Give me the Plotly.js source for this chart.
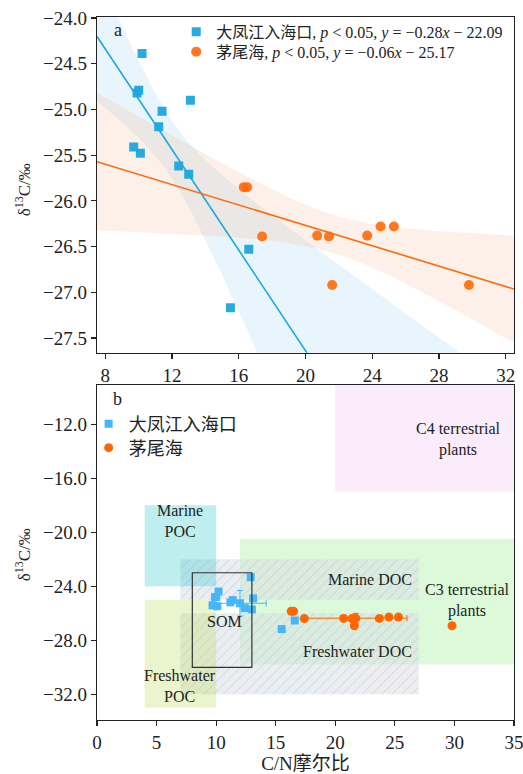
<!DOCTYPE html>
<html><head><meta charset="utf-8">
<script src="https://cdn.plot.ly/plotly-3.0.1.min.js"></script>
<style>html,body{margin:0;padding:0;background:#fff}#chart{width:523px;height:774px}</style>
</head><body><div id="chart"></div>
<script>
const FONT = 'Liberation Serif, Noto Sans CJK SC, serif';

// ---- data ----
const siteNames = ['大凤江入海口', '茅尾海'];
const legendA = ['大凤江入海口, <i>p</i> &lt; 0.05, <i>y</i> = −0.28<i>x</i> − 22.09',
                 '茅尾海, <i>p</i> &lt; 0.05, <i>y</i> = −0.06<i>x</i> − 25.17'];
// 大凤江入海口 (C/N, δ13C)
const estuaryCN   = [10.2, 10.0, 9.9, 13.1, 11.4, 11.2, 9.7, 10.1, 12.4, 13.0, 16.6, 15.5];
const estuaryD13C = [-24.39, -24.79, -24.82, -24.90, -25.02, -25.19, -25.41, -25.48, -25.62, -25.71, -26.53, -27.17];
// extra estuary sample shown only in panel b
const estuaryExtraCN   = [12.9];
const estuaryExtraD13C = [-23.33];
// 茅尾海
const bayCN   = [16.3, 16.5, 17.4, 20.7, 21.4, 21.6, 23.7, 24.5, 25.3, 29.8];
const bayD13C = [-25.85, -25.85, -26.39, -26.38, -26.39, -26.92, -26.38, -26.28, -26.28, -26.92];

// end-member source regions for panel b
const regionNames = ['C4 terrestrial plants', 'C3 terrestrial plants', 'Marine DOC', 'Freshwater DOC', 'Marine POC', 'Freshwater POC'];
const regionCNmin = [20, 12, 7, 7, 4, 4];
const regionCNmax = [35, 35, 27, 27, 10, 10];
const regionD13Cmin = [-17, -29.8, -25, -32, -24, -33];
const regionD13Cmax = [-8, -20.5, -22, -26, -18, -25];
const somBox = {cn: [8, 13], d13c: [-30, -23]};

// t quantiles (two-sided 95%) by degrees of freedom
const T95 = {8: 2.306, 10: 2.228};

// ---- helpers ----
function stats(x, y) {
  const n = x.length;
  const mx = x.reduce((a, b) => a + b, 0) / n;
  const my = y.reduce((a, b) => a + b, 0) / n;
  let sxx = 0, sxy = 0, syy = 0;
  for (let i = 0; i < n; i++) { sxx += (x[i]-mx)**2; sxy += (x[i]-mx)*(y[i]-my); syy += (y[i]-my)**2; }
  const slope = sxy / sxx, icpt = my - slope * mx;
  let ssr = 0;
  for (let i = 0; i < n; i++) ssr += (y[i] - icpt - slope * x[i]) ** 2;
  const s = Math.sqrt(ssr / (n - 2));
  return {n, mx, my, sxx, slope, icpt, s, sdx: Math.sqrt(sxx/(n-1)), sdy: Math.sqrt(syy/(n-1)), t: T95[n-2]};
}
function bandPoly(st, x0, x1, steps) {
  const xs = [], hi = [], lo = [], yh = [];
  for (let i = 0; i <= steps; i++) {
    const xv = x0 + (x1 - x0) * i / steps;
    const yv = st.icpt + st.slope * xv;
    const se = st.s * Math.sqrt(1 / st.n + (xv - st.mx) ** 2 / st.sxx);
    xs.push(xv); yh.push(yv); hi.push(yv + st.t * se); lo.push(yv - st.t * se);
  }
  return {xs, yh, px: xs.concat(xs.slice().reverse()), py: hi.concat(lo.slice().reverse())};
}

const XA = [7.5, 32.5];
const stE = stats(estuaryCN, estuaryD13C);
const stB = stats(bayCN, bayD13C);
const bE = bandPoly(stE, XA[0], XA[1], 120);
const bB = bandPoly(stB, XA[0], XA[1], 120);

const BLUE = '#1ba7de', ORANGE = '#ff6a0a';
const BLUE2 = '#45b6fa', ORANGE2 = '#ff6600';

const traces = [];
// panel a
traces.push({x: bE.px, y: bE.py, xaxis: 'x', yaxis: 'y', type: 'scatter', mode: 'lines', fill: 'toself',
  fillcolor: 'rgba(140,205,238,0.2)', line: {width: 0}, showlegend: false, hoverinfo: 'skip'});
traces.push({x: bB.px, y: bB.py, xaxis: 'x', yaxis: 'y', type: 'scatter', mode: 'lines', fill: 'toself',
  fillcolor: 'rgba(245,170,125,0.18)', line: {width: 0}, showlegend: false, hoverinfo: 'skip'});
traces.push({x: bE.xs, y: bE.yh, xaxis: 'x', yaxis: 'y', type: 'scatter', mode: 'lines',
  line: {color: BLUE, width: 1.6}, showlegend: false, hoverinfo: 'skip'});
traces.push({x: bB.xs, y: bB.yh, xaxis: 'x', yaxis: 'y', type: 'scatter', mode: 'lines',
  line: {color: ORANGE, width: 1.6}, showlegend: false, hoverinfo: 'skip'});
traces.push({x: estuaryCN, y: estuaryD13C, xaxis: 'x', yaxis: 'y', type: 'scatter', mode: 'markers',
  name: legendA[0], legend: 'legend', marker: {symbol: 'square', size: 9, color: BLUE, opacity: 0.95}});
traces.push({x: bayCN, y: bayD13C, xaxis: 'x', yaxis: 'y', type: 'scatter', mode: 'markers',
  name: legendA[1], legend: 'legend3', marker: {symbol: 'circle', size: 10, color: ORANGE, opacity: 0.9}});

// panel b regions
const regionStyle = {
  'C4 terrestrial plants': {fill: 'rgba(235,180,240,0.25)'},
  'C3 terrestrial plants': {fill: 'rgba(120,235,110,0.26)'},
  'Marine DOC': {fill: 'rgba(220,220,226,0.5)', hatch: true},
  'Freshwater DOC': {fill: 'rgba(220,220,226,0.5)', hatch: true},
  'Marine POC': {fill: 'rgba(40,200,200,0.3)'},
  'Freshwater POC': {fill: 'rgba(190,225,100,0.32)'}
};
regionNames.forEach((nm, i) => {
  const st = regionStyle[nm];
  const tr = {
    x: [regionCNmin[i], regionCNmax[i], regionCNmax[i], regionCNmin[i], regionCNmin[i]],
    y: [regionD13Cmin[i], regionD13Cmin[i], regionD13Cmax[i], regionD13Cmax[i], regionD13Cmin[i]],
    xaxis: 'x2', yaxis: 'y2', type: 'scatter', mode: 'lines', fill: 'toself',
    fillcolor: st.fill, line: {width: 0}, showlegend: false, hoverinfo: 'skip'
  };
  if (st.hatch) tr.fillpattern = {shape: '/', fgcolor: 'rgba(140,200,235,0.75)', bgcolor: st.fill, size: 7, solidity: 0.1};
  traces.push(tr);
});

const allECN = estuaryCN.concat(estuaryExtraCN), allED = estuaryD13C.concat(estuaryExtraD13C);
const mE = stats(allECN, allED);
const mB = stats(bayCN, bayD13C);
traces.push({x: allECN, y: allED, xaxis: 'x2', yaxis: 'y2', type: 'scatter', mode: 'markers',
  name: siteNames[0], legend: 'legend2', marker: {symbol: 'square', size: 8, color: BLUE2}});
traces.push({x: bayCN, y: bayD13C, xaxis: 'x2', yaxis: 'y2', type: 'scatter', mode: 'markers',
  name: siteNames[1], legend: 'legend4', marker: {symbol: 'circle', size: 9, color: ORANGE2}});
traces.push({x: [mE.mx], y: [mE.my], xaxis: 'x2', yaxis: 'y2', type: 'scatter', mode: 'markers', showlegend: false,
  marker: {symbol: 'square', size: 8, color: BLUE2},
  error_x: {type: 'data', array: [mE.sdx], color: BLUE2, thickness: 1, width: 3},
  error_y: {type: 'data', array: [mE.sdy], color: BLUE2, thickness: 1, width: 3}});
traces.push({x: [mB.mx], y: [mB.my], xaxis: 'x2', yaxis: 'y2', type: 'scatter', mode: 'markers', showlegend: false,
  marker: {symbol: 'circle', size: 9, color: ORANGE2},
  error_x: {type: 'data', array: [mB.sdx], color: ORANGE2, thickness: 1, width: 3},
  error_y: {type: 'data', array: [mB.sdy], color: ORANGE2, thickness: 1, width: 3}});

const axisCommon = {
  showgrid: false, zeroline: false, showline: true, linecolor: '#222', linewidth: 1.3, mirror: true,
  ticks: 'outside', ticklen: 5, tickcolor: '#222', tickwidth: 1.2, ticklabeloverflow: 'allow',
  tickfont: {family: FONT, size: 19, color: '#222'}
};

const ann = (x, y, text, opts) => Object.assign({xref: 'x2', yref: 'y2', x, y, text, showarrow: false,
  font: {family: FONT, size: 16, color: '#222'}}, opts || {});
const leg = (x, y, size) => ({x, xanchor: 'left', y, yanchor: 'middle', bgcolor: 'rgba(0,0,0,0)',
  font: {family: FONT, size, color: '#222'}, itemwidth: 30});
const pAnn = (x, y, text, size, extra) => Object.assign({xref: 'paper', yref: 'paper', x, y, xanchor: 'center', yanchor: 'middle',
  text, showarrow: false, font: {family: FONT, size, color: '#222'}}, extra || {});

const layout = {
  width: 523, height: 774,
  margin: {l: 97, r: 9, t: 17, b: 54},
  paper_bgcolor: '#fff', plot_bgcolor: 'rgba(0,0,0,0)',
  font: {family: FONT, color: '#222'},
  xaxis: Object.assign({}, axisCommon, {domain: [0, 1], range: XA, tick0: 8, dtick: 4, anchor: 'y'}),
  yaxis: Object.assign({}, axisCommon, {domain: [0.5225, 1], range: [-27.66, -23.99], tick0: -24, dtick: 0.5,
    tickformat: '.1f', anchor: 'x'}),
  xaxis2: Object.assign({}, axisCommon, {domain: [0, 1], range: [0, 35], tick0: 0, dtick: 5, anchor: 'y2',
    title: {text: 'C/N摩尔比', font: {family: FONT, size: 19, color: '#222'}, standoff: 5}}),
  yaxis2: Object.assign({}, axisCommon, {domain: [0, 0.4765], range: [-33.9, -9.1], tick0: -12, dtick: 4,
    tickformat: '.1f', anchor: 'x2'}),
  legend: leg(0.19, 0.979, 16),
  legend3: leg(0.19, 0.9506, 16),
  legend2: leg(-0.02, 0.421, 18),
  legend4: leg(-0.02, 0.387, 18),
  shapes: [{type: 'rect', xref: 'x2', yref: 'y2', x0: somBox.cn[0], x1: somBox.cn[1], y0: somBox.d13c[0], y1: somBox.d13c[1],
    line: {color: '#333', width: 1.2}, fillcolor: 'rgba(0,0,0,0)'}],
  annotations: [
    pAnn(0.05, 0.9815, 'a', 18),
    pAnn(0.048, 0.4566, 'b', 18),
    pAnn(-0.177, (720 - 190) / 703, 'δ<sup>13</sup>C/‰', 17, {textangle: -90}),
    pAnn(-0.177, (720 - 555) / 703, 'δ<sup>13</sup>C/‰', 17, {textangle: -90}),
    ann(30.3, -13.1, 'C4 terrestrial<br>plants'),
    ann(31.06, -25.05, 'C3 terrestrial<br>plants'),
    ann(7, -19.2, 'Marine<br>POC'),
    ann(7, -31.4, 'Freshwater<br>POC'),
    ann(26.6, -23.5, 'Marine DOC', {xanchor: 'right'}),
    ann(26.6, -28.85, 'Freshwater DOC', {xanchor: 'right'}),
    ann(10.7, -26.6, 'SOM')
  ]
};

Plotly.newPlot('chart', traces, layout, {displayModeBar: false, staticPlot: true});
</script></body></html>
